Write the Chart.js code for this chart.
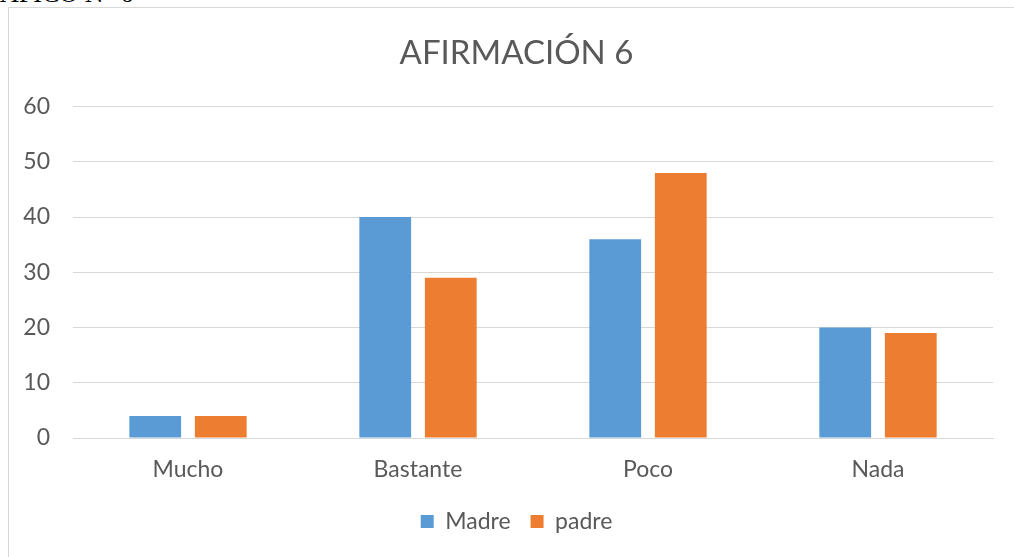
<!DOCTYPE html>
<html>
<head>
<meta charset="utf-8">
<script src="https://cdn.jsdelivr.net/npm/chart.js@4.4.1/dist/chart.umd.min.js"></script>
<style>
  html, body { margin: 0; padding: 0; background: #fff; overflow: hidden; }
  body { width: 1014px; height: 557px; position: relative; }
  #cabecera {
    position: absolute; left: -36px; top: -19px;
    font-family: "Liberation Serif", "DejaVu Serif", serif;
    font-size: 26px; line-height: 26px; color: #000; white-space: nowrap;
  }
  #marco {
    position: absolute; left: 8px; top: 7px; width: 1020px; height: 560px;
    border-left: 1px solid #d9d9d9; border-top: 1px solid #d9d9d9;
  }
  #grafico { position: absolute; left: 9px; top: 8px; }
</style>
</head>
<body>
<div id="cabecera">GRÁFICO N° 6</div>
<div id="marco"></div>
<canvas id="grafico" width="1015" height="549"></canvas>
<script>
// datos
const categorias = ["Mucho", "Bastante", "Poco", "Nada"];
const madre = [4, 40, 36, 20];
const padre = [4, 29, 48, 19];
const ticksY = [0, 10, 20, 30, 40, 50, 60];

const gris = "#595959";
const fuente = "Lato, Carlito, Calibri, 'Open Sans', sans-serif";

new Chart(document.getElementById("grafico"), {
  type: "bar",
  data: {
    labels: categorias,
    datasets: [
      { label: "Madre", data: madre, backgroundColor: "#5B9BD5" },
      { label: "padre", data: padre, backgroundColor: "#ED7D31" }
    ]
  },
  options: {
    responsive: false,
    animation: false,
    categoryPercentage: 0.57,
    barPercentage: 0.79,
    layout: { padding: { left: 0, right: 0, top: 0, bottom: 14 } },
    plugins: {
      title: {
        display: true,
        text: "AFIRMACIÓN 6",
        color: gris,
        font: { family: fuente, size: 33, weight: "normal" },
        padding: { top: 26, bottom: 33 }
      },
      legend: {
        position: "bottom",
        labels: {
          color: gris,
          font: { family: fuente, size: 23 },
          boxWidth: 13,
          boxHeight: 13,
          padding: 20
        }
      },
      tooltip: { enabled: false }
    },
    scales: {
      x: {
        grid: { display: false },
        border: { color: "#d9d9d9", width: 1 },
        ticks: { color: gris, font: { family: fuente, size: 23 }, padding: 10 },
        afterFit: s => { s.height = 52; }
      },
      y: {
        min: 0,
        max: 60,
        afterBuildTicks: s => { s.ticks = ticksY.map(v => ({ value: v })); },
        grid: { color: "#d9d9d9", drawTicks: false },
        border: { display: false },
        ticks: { color: gris, font: { family: fuente, size: 23 }, padding: 23 },
        afterFit: s => { s.width = 64; }
      },
      // eje vacío a la derecha: solo reserva el margen del marco
      derecha: {
        type: "linear",
        position: "right",
        grid: { display: false },
        border: { display: false },
        ticks: { display: false },
        afterFit: s => { s.width = 31; }
      }
    }
  }
});
</script>
</body>
</html>
